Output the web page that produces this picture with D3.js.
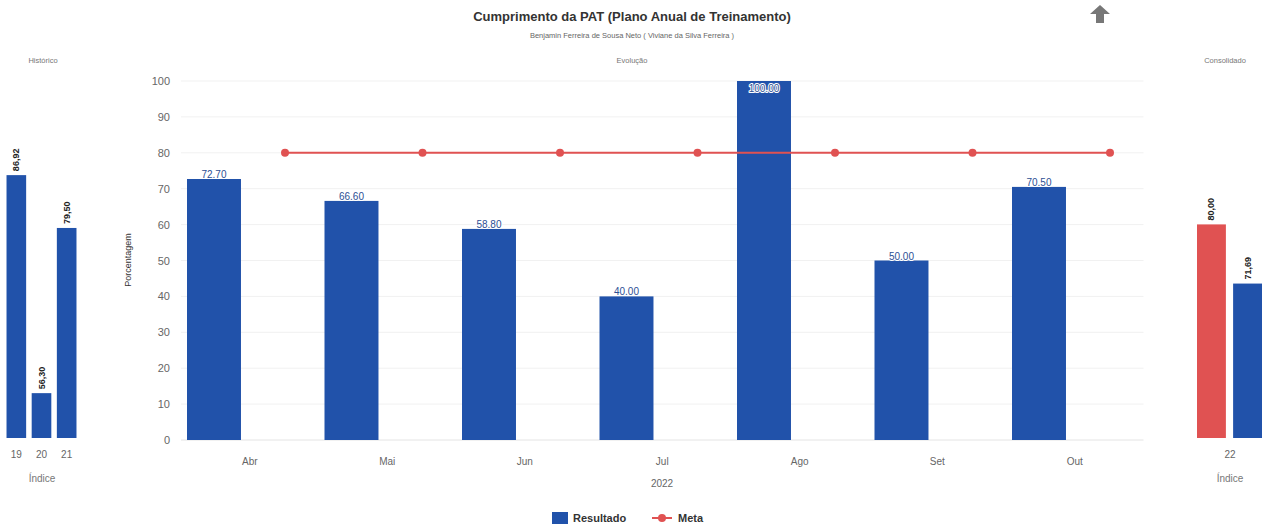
<!DOCTYPE html>
<html><head><meta charset="utf-8">
<script src="https://cdn.jsdelivr.net/npm/d3@7"></script>
<style>body{margin:0;background:#fff;}svg{display:block;font-family:"Liberation Sans",Arial,sans-serif;}</style>
</head><body>
<svg id="c" width="1270" height="530"></svg>
<script>
const months = ["Abr","Mai","Jun","Jul","Ago","Set","Out"];
const resultado = [72.70, 66.60, 58.80, 40.00, 100.00, 50.00, 70.50];
const meta = [80, 80, 80, 80, 80, 80, 80];
const histCats = ["19","20","21"];
const histValues = [86.92, 56.30, 79.50];
const consCat = ["22"];
const consKeys = ["Meta","Resultado"];
const consValues = [80.00, 71.69];
const yTicks = [0,10,20,30,40,50,60,70,80,90,100];

const BLUE = "#2152aa", RED = "#e05252";
const svg = d3.select("#c");

// Titles
svg.append("text").attr("x",632).attr("y",21).attr("text-anchor","middle")
  .attr("font-size",13).attr("font-weight","bold").attr("fill","#333")
  .text("Cumprimento da PAT (Plano Anual de Treinamento)");
svg.append("text").attr("x",632).attr("y",38).attr("text-anchor","middle")
  .attr("font-size",7.5).attr("fill","#666")
  .text("Benjamin Ferreira de Sousa Neto ( Viviane da Silva Ferreira )");
// arrow icon
svg.append("path").attr("d","M1100,5 L1110,14 L1104,14 L1104,23 L1096,23 L1096,14 L1090,14 Z").attr("fill","#777");

[["Histórico",43],["Evolução",632],["Consolidado",1225]].forEach(([t,x])=>{
  svg.append("text").attr("x",x).attr("y",63).attr("text-anchor","middle")
    .attr("font-size",7.5).attr("fill","#777").text(t);
});

// ---- Main chart ----
const y = d3.scaleLinear().domain([0,100]).range([440,81]);
const x = d3.scaleBand().domain(months).range([181,1143.5]).padding(0);
const xi = d3.scaleBand().domain(["Resultado","Meta"]).range([6,131]).paddingInner(0.24).paddingOuter(0);

const g = svg.append("g");
g.selectAll(".grid").data(yTicks).join("line")
  .attr("x1",181).attr("x2",1143.5).attr("y1",d=>y(d)).attr("y2",d=>y(d))
  .attr("stroke",d=>d===0?"#e4e4e4":"#f1f1f1").attr("stroke-width",1);

const yAxis = g.append("g").attr("transform","translate(170,0)")
  .call(d3.axisLeft(y).tickValues(yTicks).tickSize(0).tickPadding(0));
yAxis.select(".domain").remove();
yAxis.selectAll("text").attr("font-size",11).attr("fill","#666").attr("font-family","Liberation Sans, Arial");

svg.append("text").attr("transform","translate(131,260) rotate(-90)").attr("text-anchor","middle")
  .attr("font-size",9).attr("fill","#333").text("Porcentagem");

const xAxis = g.append("g").attr("transform","translate(0,440)")
  .call(d3.axisBottom(x).tickSize(0).tickPadding(18));
xAxis.select(".domain").remove();
xAxis.selectAll("text").attr("font-size",10).attr("fill","#666").attr("font-family","Liberation Sans, Arial");
svg.append("text").attr("x",662).attr("y",487).attr("text-anchor","middle")
  .attr("font-size",10).attr("fill","#666").text("2022");

g.selectAll(".bar").data(months).join("rect")
  .attr("x",(d)=>x(d)+xi("Resultado")).attr("width",xi.bandwidth())
  .attr("y",(d,i)=>y(resultado[i])).attr("height",(d,i)=>y(0)-y(resultado[i]))
  .attr("fill",BLUE);

g.selectAll(".lbl").data(months).join("text")
  .attr("x",d=>x(d)+xi("Resultado")+xi.bandwidth()/2)
  .attr("y",(d,i)=>Math.max(y(resultado[i])-1,92))
  .attr("text-anchor","middle").attr("font-size",10)
  .attr("fill","#2d4f94").attr("stroke","#fff").attr("stroke-width",2).attr("paint-order","stroke")
  .attr("stroke-linejoin","round")
  .text((d,i)=>resultado[i].toFixed(2));

const line = d3.line().x((d,i)=>x(months[i])+xi("Meta")+xi.bandwidth()/2).y(d=>y(d));
g.append("path").datum(meta).attr("d",line).attr("fill","none").attr("stroke",RED).attr("stroke-width",2);
g.selectAll(".pt").data(meta).join("circle")
  .attr("cx",(d,i)=>x(months[i])+xi("Meta")+xi.bandwidth()/2).attr("cy",d=>y(d))
  .attr("r",4).attr("fill",RED);

// ---- Historic chart ----
const yh = d3.scaleLinear().domain([50,100]).range([438,82]);
const xh = d3.scaleBand().domain(histCats).range([4,79]).paddingInner(0.22).paddingOuter(0.1);
svg.selectAll(".hb").data(histCats).join("rect")
  .attr("x",d=>xh(d)).attr("width",xh.bandwidth())
  .attr("y",(d,i)=>yh(histValues[i])).attr("height",(d,i)=>yh(50)-yh(histValues[i]))
  .attr("fill",BLUE);
svg.selectAll(".hl").data(histCats).join("text")
  .attr("transform",(d,i)=>`translate(${xh(d)+xh.bandwidth()/2+3},${yh(histValues[i])-4}) rotate(-90)`)
  .attr("font-size",9).attr("font-weight","bold").attr("fill","#222")
  .text((d,i)=>histValues[i].toFixed(2).replace(".",","));
const hx = svg.append("g").attr("transform","translate(0,438)").call(d3.axisBottom(xh).tickSize(0).tickPadding(13));
hx.select(".domain").remove();
hx.selectAll("text").attr("font-size",10).attr("fill","#666").attr("font-family","Liberation Sans, Arial");
svg.append("text").attr("x",42).attr("y",482).attr("text-anchor","middle").attr("font-size",10).attr("fill","#777").text("Índice");

// ---- Consolidated chart ----
const yc = d3.scaleLinear().domain([50,100]).range([438,82]);
const xc = d3.scaleBand().domain(consCat).range([1190,1270]);
const xci = d3.scaleBand().domain(consKeys).range([7,72]).paddingInner(0.2);
const cg = svg.append("g");
cg.selectAll(".cb").data(consKeys).join("rect")
  .attr("x",d=>xc("22")+xci(d)).attr("width",xci.bandwidth())
  .attr("y",(d,i)=>yc(consValues[i])).attr("height",(d,i)=>yc(50)-yc(consValues[i]))
  .attr("fill",(d,i)=>i===0?RED:BLUE);
cg.selectAll(".cl").data(consKeys).join("text")
  .attr("transform",(d,i)=>`translate(${xc("22")+xci(d)+xci.bandwidth()/2+3},${yc(consValues[i])-4}) rotate(-90)`)
  .attr("font-size",9).attr("font-weight","bold").attr("fill","#222")
  .text((d,i)=>consValues[i].toFixed(2).replace(".",","));
const cx = svg.append("g").attr("transform","translate(0,438)").call(d3.axisBottom(xc).tickSize(0).tickPadding(13));
cx.select(".domain").remove();
cx.selectAll("text").attr("font-size",10).attr("fill","#666").attr("font-family","Liberation Sans, Arial");
svg.append("text").attr("x",1230).attr("y",482).attr("text-anchor","middle").attr("font-size",10).attr("fill","#777").text("Índice");

// ---- Legend ----
const lg = svg.append("g");
lg.append("rect").attr("x",552).attr("y",512).attr("width",16).attr("height",12).attr("fill",BLUE);
lg.append("text").attr("x",573).attr("y",522).attr("font-size",11).attr("font-weight","bold").attr("fill","#333").text("Resultado");
lg.append("line").attr("x1",652).attr("x2",672).attr("y1",518).attr("y2",518).attr("stroke",RED).attr("stroke-width",2);
lg.append("circle").attr("cx",662).attr("cy",518).attr("r",4).attr("fill",RED);
lg.append("text").attr("x",678).attr("y",522).attr("font-size",11).attr("font-weight","bold").attr("fill","#333").text("Meta");
</script>
</body></html>
